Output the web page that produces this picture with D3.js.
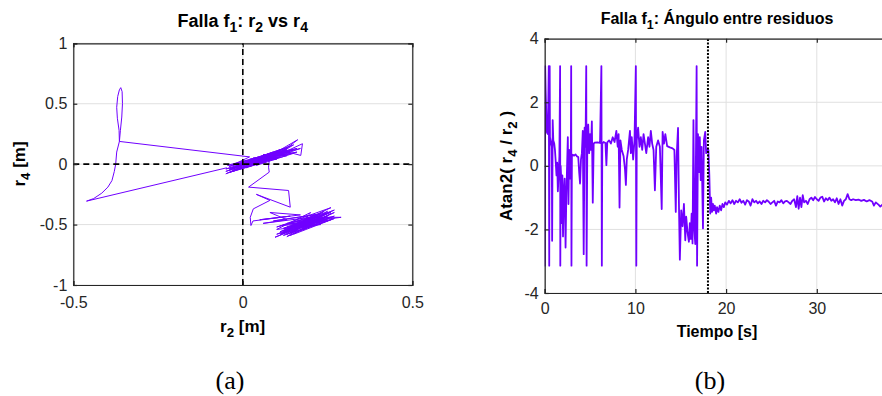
<!DOCTYPE html>
<html><head><meta charset="utf-8">
<script src="https://cdn.jsdelivr.net/npm/d3@7"></script>
<style>html,body{margin:0;padding:0;background:#fff;}svg{display:block;}</style>
</head><body>
<svg id="chart" width="882" height="396"></svg>
<script>
// ---- Panel (a): phase trajectory r2 vs r4 ----
const r2Vals = [-0.047,-0.461,-0.440,-0.416,-0.398,-0.386,-0.379,-0.375,-0.372,-0.364,
 -0.365,-0.370,-0.372,-0.369,-0.364,-0.360,-0.356,-0.355,-0.357,-0.361,-0.364,
 0.02,-0.04,0.08,-0.05,0.10,-0.02,0.12,-0.04,0.06,-0.05,0.09,0.00,0.14,-0.03,0.11,0.01,0.15,0.03,0.13,-0.01,0.07,-0.05,0.04,0.16,0.05,0.162,0.10,0.176,0.171,0.12,0.02,0.14,0.06,0.17,0.08,0.15,0.03,0.12,-0.02,0.09,-0.04,0.05,0.11,0.04,0.13,0.06,0.10,
 -0.03,0.07,-0.045,0.10,0.01,0.13,-0.02,0.08,0.02,0.15,0.04,0.12,-0.01,0.10,0.03,0.14,0.00,0.09,-0.03,0.06,0.11,0.02,0.13,0.05,0.16,0.07,0.01,0.10,-0.04,0.08,
 0.076,0.078,0.017,0.135,0.14,0.04,0.08,0.031,0.022,0.024,0.03,
 0.14,0.05,0.17,0.08,0.13,0.06,0.20,0.10,0.23,0.09,0.26,0.12,0.24,0.10,0.27,0.14,0.25,0.095,0.21,0.12,0.29,0.22,0.11,0.26,0.13,0.23,0.10,0.20,0.15,0.27,0.12,0.24,0.16,0.22,0.11,0.25,0.14,0.21,0.13,0.26,0.16,0.23,0.17,0.25,
 0.12,0.24,0.14,0.26,0.15,0.22,0.12,0.25,0.16,0.27,0.13,0.20,0.11,0.23,0.18,0.26,0.14,0.24,0.17,0.21,0.12,0.19,0.25,0.15,0.22,0.13,0.27,0.18];
const r4Vals = [-0.030,-0.306,-0.285,-0.240,-0.190,-0.136,-0.060,0.000,0.100,0.188,
 0.280,0.380,0.470,0.560,0.615,0.633,0.600,0.500,0.390,0.280,0.188,
 0.06,-0.02,0.07,-0.06,0.08,-0.03,0.10,-0.07,0.03,-0.04,0.09,-0.01,0.11,-0.05,0.06,0.02,0.12,0.00,0.13,-0.04,0.05,-0.08,0.04,0.10,0.02,0.202,0.07,0.169,0.072,0.11,0.01,0.15,0.05,0.13,0.04,0.16,0.03,0.08,0.00,0.10,-0.05,0.06,0.12,0.01,0.07,0.08,0.05,
 -0.06,0.02,-0.01,0.10,-0.03,0.12,-0.02,0.06,0.04,0.09,-0.01,0.13,0.00,0.04,0.05,0.10,0.02,0.07,-0.03,0.06,0.09,-0.02,0.11,0.04,0.13,0.08,0.00,0.06,-0.04,0.09,
 -0.025,-0.066,-0.19,-0.218,-0.356,-0.25,-0.30,-0.37,-0.44,-0.508,-0.47,
 -0.43,-0.46,-0.42,-0.40,-0.46,-0.49,-0.44,-0.52,-0.41,-0.47,-0.40,-0.55,-0.46,-0.58,-0.38,-0.52,-0.43,-0.605,-0.47,-0.50,-0.44,-0.44,-0.56,-0.36,-0.49,-0.50,-0.54,-0.40,-0.58,-0.45,-0.59,-0.39,-0.53,-0.48,-0.51,-0.41,-0.56,-0.45,-0.60,-0.44,-0.48,-0.43,-0.55,-0.47,
 -0.53,-0.42,-0.57,-0.46,-0.51,-0.42,-0.57,-0.39,-0.56,-0.43,-0.52,-0.46,-0.58,-0.45,-0.54,-0.41,-0.59,-0.44,-0.50,-0.42,-0.56,-0.49,-0.45,-0.55,-0.46,-0.58,-0.40,-0.51];
const aXTicks = [-0.5, 0, 0.5];
const aYTicks = [-1, -0.5, 0, 0.5, 1];

// ---- Panel (b): angle between residuals ----
const tVals = [0.00,0.02,0.05,0.10,0.18,0.25,0.35,0.45,0.50,0.55,0.58,0.68,0.78,0.82,0.88,0.95,1.05,1.13,1.20,1.30,1.38,1.45,1.55,1.62,1.70,1.72,1.76,1.85,1.90,1.95,2.02,2.10,2.20,2.30,2.38,2.45,2.55,2.62,2.70,2.80,2.88,2.92,2.95,3.00,3.10,3.25,3.40,3.55,3.70,3.80,3.90,4.00,4.10,4.20,4.30,4.40,4.50,4.58,4.62,4.70,4.80,4.90,5.00,5.10,5.20,5.30,5.40,5.50,5.80,6.10,6.25,6.30,6.35,6.50,6.70,6.80,6.90,7.10,7.30,7.50,7.70,7.90,8.05,8.15,8.25,8.35,8.50,8.70,8.85,8.95,9.05,9.20,9.40,9.50,9.60,9.75,9.90,10.05,10.10,10.15,10.30,10.45,10.60,10.75,10.90,11.05,11.20,11.40,11.55,11.70,11.85,12.00,12.15,12.30,12.50,12.70,12.90,13.00,13.15,13.30,13.50,13.80,14.10,14.30,14.45,14.55,14.70,14.80,14.90,15.05,15.20,15.35,15.50,15.60,15.75,15.90,16.00,16.10,16.20,16.30,16.40,16.50,16.60,16.75,16.80,16.90,17.00,17.10,17.20,17.30,17.45,17.55,17.70,17.80,17.95,18.05,18.15,18.25,18.35,18.45,18.55,18.65,18.75,18.90,19.00,19.15,19.30,19.45,19.60,19.75,19.90,20.10,20.30,20.50,20.70,20.90,21.10,21.30,21.50,21.70,21.90,22.10,22.30,22.50,22.70,22.90,23.10,23.30,23.50,23.70,23.90,24.10,24.30,24.50,24.70,24.90,25.10,25.30,25.50,25.70,25.90,26.10,26.30,26.50,26.70,26.90,27.10,27.30,27.50,27.70,27.85,28.00,28.15,28.30,28.45,28.60,28.80,29.00,29.20,29.40,29.60,29.80,30.00,30.20,30.40,30.60,30.80,31.00,31.20,31.40,31.60,31.80,32.00,32.20,32.40,32.60,32.80,33.00,33.20,33.40,33.60,33.80,34.00,34.30,34.60,34.90,35.20,35.50,35.80,36.10,36.30,36.50,36.80,37.00,37.30,37.60,38.00];
const angleVals = [3.14,-3.14,3.14,2.4,1.6,1.05,1.0,3.14,-3.14,3.14,0.9,0.75,0.6,-2.36,1.44,0.8,0.7,0.5,0.2,-0.3,0.1,-0.8,-0.2,0.3,3.14,-3.14,0.0,-0.6,-1.8,-0.3,-2.22,-0.9,-0.4,-2.57,-1.0,-0.2,0.9,-1.2,0.5,-0.4,0.3,3.14,-3.14,0.3,0.35,0.32,0.36,0.3,0.28,-0.2,-0.56,0.2,0.4,1.1,-2.78,1.2,0.6,3.14,-3.14,0.8,1.3,0.4,1.0,0.5,1.4,-1.16,0.7,0.73,0.74,0.72,3.14,-3.14,0.7,0.75,0.72,0.02,0.74,0.8,0.7,0.9,0.75,1.1,0.6,1.0,-1.31,0.8,0.5,0.3,-0.1,-0.6,0.2,0.5,1.1,0.4,0.9,0.2,0.8,3.14,-3.14,0.8,1.2,0.6,0.9,0.5,1.0,0.7,0.4,0.9,0.6,1.1,0.7,0.5,-0.77,0.6,0.8,0.6,-1.36,1.07,0.7,1.0,0.62,0.58,0.55,0.5,-1.45,0.3,1.19,-1.2,-2.95,-1.4,-1.9,-1.2,-2.34,-1.6,-2.1,-2.39,-1.8,-2.3,-1.5,-2.44,1.44,-2.0,-2.46,3.14,-3.14,1.0,-0.2,0.9,-0.45,0.6,-1.97,0.8,1.07,0.4,0.5,0.5,-0.3,-1.5,-1.0,-1.45,-1.2,-1.4,-1.25,-1.5,-1.3,-1.45,-1.25,-1.4,-1.2,-1.3,-1.15,-1.22,-1.1,-1.18,-1.08,-1.2,-1.1,-1.15,-1.05,-1.16,-1.1,-1.22,-1.08,-1.12,-1.25,-1.05,-1.15,-1.1,-1.18,-1.12,-1.2,-1.1,-1.15,-1.08,-1.13,-1.2,-1.15,-1.1,-1.25,-1.12,-1.15,-1.08,-1.18,-1.12,-1.1,-1.15,-1.2,-1.1,-1.05,-1.3,-0.95,-1.35,-1.0,-1.3,-0.92,-1.15,-1.1,-1.2,-1.05,-1.0,-1.08,-0.98,-1.05,-1.1,-1.0,-0.97,-1.12,-1.02,-1.08,-1.0,-1.1,-1.05,-1.15,-1.02,-1.2,-1.05,-1.25,-1.1,-1.05,-0.89,-1.05,-1.08,-1.05,-1.08,-1.06,-1.1,-1.07,-1.12,-1.08,-1.12,-1.25,-1.15,-1.22,-1.28,-1.2,-1.3,-1.25];
const faultTime = [18];
const bXTicks = [0, 10, 20, 30];
const bYTicks = [-4, -2, 0, 2, 4];

const LINE = "#7000ff", AXC = "#262626", GRID = "#e0e0e0";
const FONT = "'Liberation Sans', Arial, Helvetica, sans-serif";
const svg = d3.select("#chart");

function richText(g, x, y, segs, size, weight, anchor, rotate) {
  const t = g.append("text").attr("font-family", FONT).attr("font-size", size)
    .attr("font-weight", weight).attr("fill", "#000").attr("text-anchor", anchor || "middle");
  if (rotate) t.attr("transform", `translate(${x},${y}) rotate(-90)`);
  else t.attr("x", x).attr("y", y);
  let down = false;
  const off = Math.round(size * 0.3);
  segs.forEach(s => {
    const sub = Array.isArray(s);
    const txt = sub ? s[0] : s;
    const sp = t.append("tspan").text(txt);
    if (sub && !down) { sp.attr("dy", off).attr("font-size", size * 0.78); down = true; }
    else if (sub) { sp.attr("font-size", size * 0.78); }
    else if (!sub && down) { sp.attr("dy", -off); down = false; }
  });
  return t;
}

function frame(g, x, y, X0, X1, Y0, Y1, xt, yt) {
  g.append("g").selectAll("line").data(xt).join("line")
    .attr("x1", d => x(d)).attr("x2", d => x(d)).attr("y1", Y0).attr("y2", Y1)
    .attr("stroke", GRID).attr("stroke-width", 1);
  g.append("g").selectAll("line").data(yt).join("line")
    .attr("y1", d => y(d)).attr("y2", d => y(d)).attr("x1", X0).attr("x2", X1)
    .attr("stroke", GRID).attr("stroke-width", 1);
}

function axesBox(g, x, y, X0, X1, Y0, Y1, xt, yt, fmt, fs, padB) {
  const tl = 4;
  const bx = d3.axisBottom(x).tickValues(xt).tickSize(-tl).tickPadding(padB).tickFormat(fmt);
  const lx = d3.axisLeft(y).tickValues(yt).tickSize(-tl).tickPadding(6).tickFormat(fmt);
  const tx = d3.axisTop(x).tickValues(xt).tickSize(-tl).tickFormat("");
  const rx = d3.axisRight(y).tickValues(yt).tickSize(-tl).tickFormat("");
  const style = a => {
    a.selectAll("path").attr("stroke", AXC).attr("stroke-width", 1.2);
    a.selectAll("line").attr("stroke", AXC).attr("stroke-width", 1.2);
    a.selectAll("text").attr("fill", AXC).attr("font-size", fs).attr("font-family", FONT);
  };
  style(g.append("g").attr("transform", `translate(0,${Y0})`).call(bx));
  style(g.append("g").attr("transform", `translate(${X0},0)`).call(lx));
  style(g.append("g").attr("transform", `translate(0,${Y1})`).call(tx));
  style(g.append("g").attr("transform", `translate(${X1},0)`).call(rx));
  g.selectAll(".domain").attr("fill", "none");
}

const fmt = d => String(d);

// ===== Panel (a) =====
{
  const X0 = 73.3, X1 = 412.3, Y0 = 285, Y1 = 43.3;
  const x = d3.scaleLinear().domain([-0.5, 0.5]).range([X0, X1]);
  const y = d3.scaleLinear().domain([-1, 1]).range([Y0, Y1]);
  const g = svg.append("g");
  g.append("defs").append("clipPath").attr("id", "clipA").append("rect")
    .attr("x", X0).attr("y", Y1).attr("width", X1 - X0).attr("height", Y0 - Y1);
  frame(g, x, y, X0, X1, Y0, Y1, aXTicks, aYTicks);
  const pts = r2Vals.map((v, i) => [v, r4Vals[i]]);
  g.append("path").datum(pts).attr("clip-path", "url(#clipA)")
    .attr("d", d3.line().x(d => x(d[0])).y(d => y(d[1])))
    .attr("fill", "none").attr("stroke", LINE).attr("stroke-width", 1).attr("stroke-linejoin", "round");
  g.append("line").attr("x1", x(0)).attr("x2", x(0)).attr("y1", Y0).attr("y2", Y1)
    .attr("stroke", "#000").attr("stroke-width", 1.6).attr("stroke-dasharray", "6,4");
  g.append("line").attr("x1", X0).attr("x2", X1).attr("y1", y(0)).attr("y2", y(0))
    .attr("stroke", "#000").attr("stroke-width", 1.6).attr("stroke-dasharray", "6,4");
  axesBox(g, x, y, X0, X1, Y0, Y1, aXTicks, aYTicks, fmt, 16, 12);
  richText(g, 242.7, 27, ["Falla f", ["1"], ": r", ["2"], " vs r", ["4"]], 18, "bold");
  richText(g, 242.7, 332, ["r", ["2"], " [m]"], 17, "bold");
  richText(g, 25, 164, ["r", ["4"], " [m]"], 17, "bold", "middle", true);
  g.append("text").attr("x", 230).attr("y", 389).attr("text-anchor", "middle")
    .attr("font-family", "'Liberation Serif', 'Times New Roman', serif").attr("font-size", 26).text("(a)");
}

// ===== Panel (b) =====
{
  const X0 = 544.7, X1 = 544.7 + 90.7 * 4, Y0 = 293, Y1 = 38.7;
  const x = d3.scaleLinear().domain([0, 40]).range([X0, X1]);
  const y = d3.scaleLinear().domain([-4, 4]).range([Y0, Y1]);
  const g = svg.append("g");
  g.append("defs").append("clipPath").attr("id", "clipB").append("rect")
    .attr("x", X0).attr("y", Y1).attr("width", X1 - X0).attr("height", Y0 - Y1);
  frame(g, x, y, X0, X1, Y0, Y1, bXTicks, bYTicks);
  const pts = tVals.map((v, i) => [v, angleVals[i]]);
  g.append("path").datum(pts).attr("clip-path", "url(#clipB)")
    .attr("d", d3.line().x(d => x(d[0])).y(d => y(d[1])))
    .attr("fill", "none").attr("stroke", LINE).attr("stroke-width", 1.8).attr("stroke-linejoin", "round");
  g.selectAll(".fault").data(faultTime).join("line").attr("class", "fault")
    .attr("x1", d => x(d)).attr("x2", d => x(d)).attr("y1", Y0).attr("y2", Y1)
    .attr("stroke", "#000").attr("stroke-width", 2).attr("stroke-dasharray", "2,1.5");
  axesBox(g, x, y, X0, X1, Y0, Y1, bXTicks, bYTicks, fmt, 16, 10);
  richText(g, 717, 24, ["Falla f", ["1"], ": Ángulo entre residuos"], 16, "bold");
  richText(g, 717, 337, ["Tiempo [s]"], 16, "bold");
  richText(g, 512, 166, ["Atan2( r", ["4"], " / r", ["2"], " )"], 17, "bold", "middle", true);
  g.append("text").attr("x", 710).attr("y", 389).attr("text-anchor", "middle")
    .attr("font-family", "'Liberation Serif', 'Times New Roman', serif").attr("font-size", 26).text("(b)");
}
</script>
</body></html>
